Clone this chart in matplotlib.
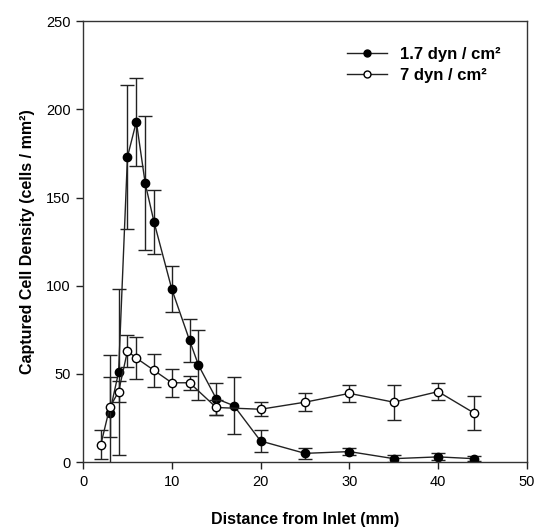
import matplotlib
matplotlib.use("Agg")
import matplotlib.pyplot as plt
from matplotlib.lines import Line2D

plt.rcParams['font.family'] = ['Liberation Sans', 'DejaVu Sans']

# 1.7 dyn/cm2 series (filled)
x_low = [3, 4, 5, 6, 7, 8, 10, 12, 13, 15, 17, 20, 25, 30, 35, 40, 44]
y_low = [28, 51, 173, 193, 158, 136, 98, 69, 55, 36, 32, 12, 5, 6, 2, 3, 2]
e_low = [33, 47, 41, 25, 38, 18, 13, 12, 20, 9, 16, 6, 3, 2, 2, 2, 1.5]

# 7 dyn/cm2 series (open)
x_high = [2, 3, 4, 5, 6, 8, 10, 12, 15, 20, 25, 30, 35, 40, 44]
y_high = [10, 31, 40, 63, 59, 52, 45, 45, 31, 30, 34, 39, 34, 40, 28]
e_high = [8, 17, 6, 9, 12, 9.5, 8, 4, 4, 4, 5, 5, 10, 5, 9.5]

labels = ['1.7 dyn / cm²', '7 dyn / cm²']
x_ticks = [0, 10, 20, 30, 40, 50]
y_ticks = [0, 50, 100, 150, 200, 250]

fig = plt.figure(figsize=(5.36, 5.27), dpi=100)
ax = fig.add_axes([0.155, 0.123, 0.828, 0.837])

lc = '#222222'
ax.errorbar(x_low, y_low, yerr=e_low, fmt='-o', color=lc, lw=1.0,
            ecolor=lc, elinewidth=1.0, capsize=5, capthick=1.0,
            ms=6, mfc='black', mec='black', zorder=2)
ax.errorbar(x_high, y_high, yerr=e_high, fmt='-o', color=lc, lw=1.0,
            ecolor=lc, elinewidth=1.0, capsize=5, capthick=1.0,
            ms=6, mfc='white', mec='black', mew=1.0, zorder=3)

ax.set_xlim(0, 50)
ax.set_ylim(0, 250)
ax.set_xticks(x_ticks)
ax.set_yticks(y_ticks)
ax.tick_params(direction='out', length=5, width=1, labelsize=10.5, color=lc,
               top=False, right=False, pad=4)
for s in ax.spines.values():
    s.set_color('#333333')
    s.set_linewidth(1.0)

ax.set_xlabel('Distance from Inlet (mm)', fontsize=11.5, fontweight='bold', labelpad=17)
ax.set_ylabel('Captured Cell Density (cells / mm²)', fontsize=11.5, fontweight='bold', labelpad=8)

handles = [Line2D([], [], color=lc, lw=1.0, marker='o', ms=5, mfc='black', mec='black'),
           Line2D([], [], color=lc, lw=1.0, marker='o', ms=5, mfc='white', mec='black')]
ax.legend(handles, labels, loc='upper right', frameon=False, handlelength=2.4,
          handletextpad=0.8, prop={'weight': 'bold', 'size': 12},
          labelspacing=0.35, bbox_to_anchor=(0.975, 0.975))

fig.savefig('out.png', dpi=100)
